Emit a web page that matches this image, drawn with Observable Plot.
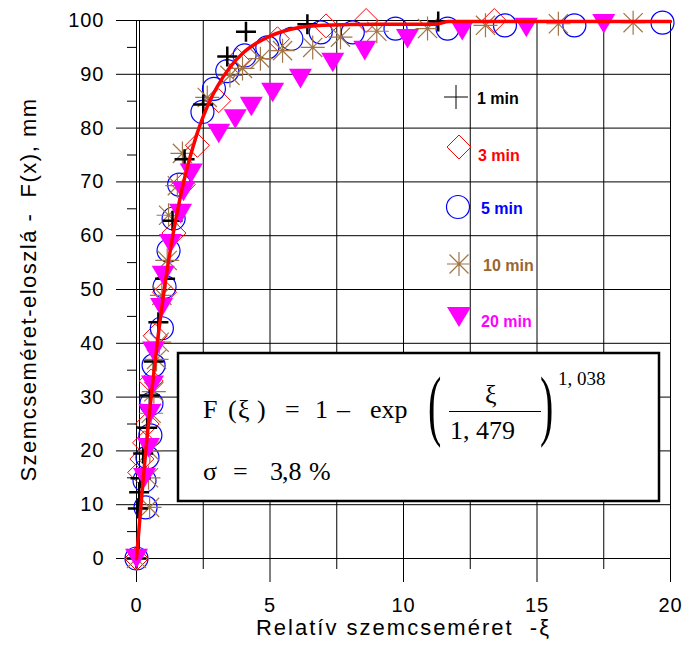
<!DOCTYPE html>
<html><head><meta charset="utf-8">
<script src="https://cdn.jsdelivr.net/npm/d3@7"></script>
<script src="https://cdn.jsdelivr.net/npm/@observablehq/plot@0.6"></script>
<style>
body{margin:0;background:#fff}
#wrap{position:relative;width:683px;height:650px;overflow:hidden}
#overlay{position:absolute;left:0;top:0;pointer-events:none}
</style></head><body><div id="wrap"></div>
<script>
// ---- tick values ----
const xTicks = [0, 5, 10, 15, 20];
const xMinor = [2.5, 7.5, 12.5, 17.5];
const xGrid = [0, 2.5, 5, 7.5, 10, 12.5, 15, 17.5, 20];
const yTicks = [0, 10, 20, 30, 40, 50, 60, 70, 80, 90, 100];
const yMinor = [5, 15, 25, 35, 45, 55, 65, 75, 85, 95];

// ---- series ----
const xi1 = [0, 0.05, 0.1, 0.15, 0.25, 0.4, 0.5, 0.65, 0.82, 1.07, 1.35, 1.8, 2.5, 3.4, 4.1, 6.4, 11.3];
const F1  = [0, 9.3, 12.3, 14.9, 19.5, 24.3, 30.3, 36.6, 43.9, 52.0, 62.8, 74.2, 84.4, 93.3, 97.9, 99.3, 99.8];

const xi3 = [0, 0.12, 0.2, 0.3, 0.4, 0.55, 0.7, 1.05, 1.4, 1.75, 2.28, 3.08, 3.78, 5.28, 7.1, 8.6, 13.4];
const F3  = [0, 16, 18.5, 21.5, 25, 33, 41.4, 49.5, 60.5, 69.5, 76.8, 85.1, 92.6, 96.6, 99.0, 100, 100];

const xi5 = [0, 0.34, 0.3, 0.41, 0.52, 0.56, 0.64, 0.95, 1.05, 1.2, 1.39, 1.6, 2.47, 2.9, 3.4, 4.05, 4.9, 5.8, 6.9, 8.1, 9.7, 11.65, 13.8, 16.4, 19.7];
const F5  = [0, 9.5, 14.5, 18.8, 22.9, 28.8, 35.9, 42.8, 50.5, 57.2, 63.2, 69.5, 83, 87.3, 90.6, 93.5, 95, 96.6, 97.8, 97.8, 98.5, 98.5, 99.1, 99.1, 99.6];

const xi10 = [0, 0.49, 0.45, 0.5, 0.55, 0.65, 0.75, 0.85, 0.95, 1.15, 1.2, 1.53, 1.72, 2.65, 3.5, 3.97, 4.64, 5.47, 6.6, 7.64, 9.0, 10.9, 13.07, 15.8, 18.6];
const F10  = [0, 9.5, 15, 20, 27, 31, 37, 40.2, 48.9, 55.4, 63.8, 69.3, 75.3, 85.7, 89.8, 91.1, 92.9, 94.4, 95.0, 96.9, 98.0, 98.5, 99.1, 99.4, 99.6];

const xi20 = [0, 0.3, 0.45, 0.5, 0.6, 0.64, 0.94, 1.0, 1.27, 1.65, 1.76, 2.05, 3.08, 3.7, 4.3, 5.1, 6.14, 7.35, 8.55, 10.15, 12.2, 14.6, 17.5];
const F20  = [0, 15, 20.6, 26.9, 32.2, 38.5, 46.6, 52.6, 58.5, 64.1, 68.2, 71.6, 79, 81.7, 84, 86.6, 89.2, 92.2, 94.4, 96.6, 98.1, 98.7, 99.4];

// fitted curve
const xiFit = [0, 0.05, 0.1, 0.2, 0.3, 0.4, 0.5, 0.6, 0.8, 1.0, 1.2, 1.4, 1.6, 1.8, 2.0, 2.25, 2.5, 2.75, 3.0, 3.5, 4.0, 4.5, 5.0, 5.5, 6.0, 7.0, 9.0, 11.2, 11.7, 20];
const FFit  = [0, 2.9, 5.9, 11.8, 17.4, 22.7, 27.7, 32.4, 41.0, 48.6, 55.3, 61.1, 66.2, 70.7, 74.5, 78.7, 82.2, 85.1, 87.5, 91.3, 94.0, 95.8, 97.1, 98.0, 98.6, 99.1, 99.3, 99.3, 99.8, 99.8];

const seriesNames = ["1 min", "3 min", "5 min", "10 min", "20 min"];
const seriesColors = ["#000000", "#ff0000", "#0000ff", "#996633", "#ff00ff"];

const xLabel = "Relatív szemcseméret\u00a0\u00a0-ξ";
const yLabel = "Szemcseméret-eloszlá -\u00a0\u00a0F(x), mm";

// ---- symbols ----
const rad = s => Math.sqrt(s / Math.PI);
const plusSym = {draw(c, s){const r = rad(s); c.moveTo(-r,0); c.lineTo(r,0); c.moveTo(0,-r); c.lineTo(0,r);}};
const diamondSym = {draw(c, s){const r = rad(s); c.moveTo(0,-r); c.lineTo(r,0); c.lineTo(0,r); c.lineTo(-r,0); c.closePath();}};
const starSym = {draw(c, s){const r = rad(s), d = r*0.8; c.moveTo(-r,0); c.lineTo(r,0); c.moveTo(0,-r); c.lineTo(0,r); c.moveTo(-d,-d); c.lineTo(d,d); c.moveTo(-d,d); c.lineTo(d,-d);}};
const triSym = {draw(c, s){const r = rad(s); c.moveTo(-r,-r*0.85); c.lineTo(r,-r*0.85); c.lineTo(0,r*0.85); c.closePath();}};

const toRows = (xs, ys) => xs.map((x, i) => ({xi: x, F: ys[i]}));
const s1 = toRows(xi1, F1), s3 = toRows(xi3, F3), s5 = toRows(xi5, F5), s10 = toRows(xi10, F10), s20 = toRows(xi20, F20);
const fit = toRows(xiFit, FFit);

const chart = Plot.plot({
  width: 683, height: 650,
  marginLeft: 136, marginRight: 13, marginTop: 20, marginBottom: 92,
  x: {domain: [0, 20], label: null},
  y: {domain: [0, 100], label: null},
  style: {fontFamily: "'Liberation Sans', Arial, sans-serif", fontSize: "18px", color: "#000", background: "#fff", overflow: "visible"},
  marks: [
    Plot.gridX(xGrid, {stroke: "#000", strokeOpacity: 1}),
    Plot.gridY(yTicks, {stroke: "#000", strokeOpacity: 1}),
    Plot.axisY(yTicks, {tickSize: 20, tickPadding: 12, fontSize: 20, label: null}),
    Plot.axisY(yMinor, {tickSize: 9, tickFormat: () => "", label: null}),
    Plot.axisX(xTicks, {tickSize: 24, tickPadding: 15, fontSize: 20, label: null}),
    Plot.axisX(xMinor, {tickSize: 11, tickFormat: () => "", label: null}),
    Plot.ruleX([0], {dx: 3, stroke: "#000"}),
    Plot.dot(s3, {x: "xi", y: "F", symbol: diamondSym, r: 12, stroke: seriesColors[1], strokeWidth: 1, fill: "none"}),
    Plot.dot(s5, {x: "xi", y: "F", symbol: "circle", r: 11.5, stroke: seriesColors[2], strokeWidth: 1.2, fill: "none"}),
    Plot.dot(s10, {x: "xi", y: "F", symbol: starSym, r: 12, stroke: "#a07548", strokeWidth: 1.2, fill: "none"}),
    Plot.dot(s1, {x: "xi", y: "F", symbol: plusSym, r: 10, stroke: seriesColors[0], strokeWidth: 2.5, fill: "none"}),
    Plot.dot(s20, {x: "xi", y: "F", symbol: triSym, r: 11.5, fill: seriesColors[4], stroke: "none"}),
    Plot.line(fit, {x: "xi", y: "F", stroke: "#ff0000", strokeWidth: 3.5, curve: "monotone-x"}),
    Plot.text([xLabel], {frameAnchor: "bottom", dy: 76, fontSize: 22, textAnchor: "middle", className: "xlab"}),
    Plot.text([yLabel], {frameAnchor: "left", dx: -108, rotate: -90, fontSize: 22, textAnchor: "middle", className: "ylab"})
  ]
});
const wrap = document.getElementById("wrap");
wrap.appendChild(chart);
// the original's lettering is slightly wider than Arial
chart.querySelectorAll(".xlab text").forEach(t => t.setAttribute("letter-spacing", "2"));
chart.querySelectorAll(".ylab text").forEach(t => t.setAttribute("letter-spacing", "1.5"));
chart.querySelectorAll("[aria-label='y-axis tick label'] text, [aria-label='x-axis tick label'] text").forEach(t => t.setAttribute("letter-spacing", "1"));

// ---- legend and formula box (annotations) ----
const legendTextX = [477, 478, 481, 483, 481];
const legendTextY = [98, 155, 208, 265, 321];
const legendSyms = [
  `<path d="M444,97H468M456,85V109" stroke="#000" stroke-width="1"/>`,
  `<path d="M459,135L471,147L459,159L447,147Z" stroke="#ff0000" fill="none" stroke-width="1"/>`,
  `<circle cx="458" cy="207" r="11.5" stroke="#0000ff" fill="none" stroke-width="1.2"/>`,
  `<path d="M447,264H471M459,252V276M449.5,254.5L468.5,273.5M449.5,273.5L468.5,254.5" stroke="#a07548" stroke-width="1.2"/>`,
  `<path d="M447,307H471L459,327Z" fill="#ff00ff"/>`
];
let legend = "";
seriesNames.forEach((n, i) => {
  legend += legendSyms[i];
  legend += `<text x="${legendTextX[i]}" y="${legendTextY[i] + 5.5}" fill="${seriesColors[i]}" font-weight="bold" font-size="16">${n}</text>`;
});
const serif = "font-family=\"'Liberation Serif','Times New Roman',serif\"";
const formula = `
<rect x="178" y="353" width="481" height="148" fill="#fff" stroke="#000" stroke-width="2.5"/>
<g ${serif} font-size="26" fill="#000">
 <text x="203" y="418">F</text>
 <text x="228" y="418">(</text>
 <text x="238" y="418">ξ</text>
 <text x="257" y="418">)</text>
 <text x="285" y="418">=</text>
 <text x="315" y="418">1</text>
 <text x="337" y="418">–</text>
 <text x="370" y="418">exp</text>
 <text transform="translate(428,431) scale(1,1.95)" font-size="40">(</text>
 <text x="485" y="403">ξ</text>
 <line x1="449" x2="541" y1="411.5" y2="411.5" stroke="#000" stroke-width="1.2"/>
 <text x="450" y="439">1,\u00a0479</text>
 <text transform="translate(540,431) scale(1,1.95)" font-size="40">)</text>
 <text x="558" y="385" font-size="19">1,\u00a0038</text>
 <text x="203" y="480">σ</text>
 <text x="233" y="480">=</text>
 <text x="270" y="480">3</text>
 <text x="282" y="480">,8</text>
 <text x="309" y="480">%</text>
</g>`;
wrap.insertAdjacentHTML("beforeend",
  `<svg id="overlay" width="683" height="650" font-family="'Liberation Sans', Arial, sans-serif">${legend}${formula}</svg>`);
</script></body></html>
